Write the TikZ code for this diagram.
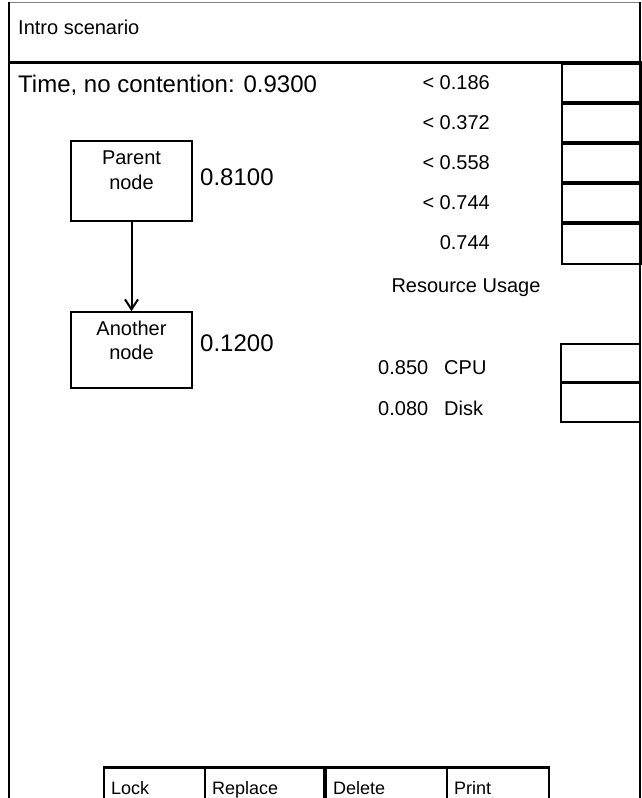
\documentclass[tikz,border=0pt]{standalone}
\usepackage{fontspec}
\setmainfont{Liberation Sans}
\usetikzlibrary{positioning, arrows.meta}

\begin{document}
\begin{tikzpicture}[x=1pt, y=-1pt]
\tikzstyle{txt}=[inner sep=0pt, font=\fontsize{20}{24}\selectfont]
\tikzstyle{big}=[inner sep=0pt, font=\fontsize{24}{28}\selectfont]
\tikzstyle{small}=[inner sep=0pt, font=\fontsize{18}{22}\selectfont]
\tikzstyle{task}=[rectangle, draw=black, line width=1.6pt, minimum width=121pt, minimum height=78pt, inner sep=0pt]
\tikzstyle{swatch}=[rectangle, draw=black, line width=1.6pt, minimum width=79pt, minimum height=40pt, inner sep=0pt, anchor=north west]
\tikzstyle{button}=[rectangle, draw=black, line width=1.6pt, minimum height=40pt, inner sep=0pt, anchor=north west]
\tikzset{link/.style={line width=2pt, -{Straight Barb[length=10pt, width=13pt, line width=2pt]}}}

\useasboundingbox[fill=white] (0,0) rectangle (642,798);
\clip (0,0) rectangle (642,798);

% window frame
\draw[gray, line width=1pt] (9,2) -- (640,2);
\draw[line width=1.6pt] (9,810) -- (9,2);
\draw[line width=1.6pt] (640,2) -- (640,810);
\draw[line width=3pt] (9,62) -- (640,62);

\node (title) [txt, anchor=west] at (18,27) {Intro scenario};
\node (time) [big, anchor=west] at (18,85) {Time, no contention: 0.9300};

% legend
\foreach \lab [count=\i] in {< 0.186, < 0.372, < 0.558, < 0.744, 0.744}{
    \node (swatch\i) [swatch] at (561,63+40*\i-40) {};
    \draw[line width=4pt] (swatch\i.north west) -- (swatch\i.north east);
    \node (range\i) [txt, anchor=east] at (490,83+40*\i-40) {\lab};
}

\node (usage) [txt] at (466,288) {Resource Usage};

\node (cpubox) [swatch, minimum height=39pt] at (560,343) {};
\node (diskbox) [swatch, minimum height=39pt] at (560,382) {};
\draw[line width=3pt] (diskbox.north west) -- (diskbox.north east);
\node (cpu) [txt, anchor=west] at (378,368) {0.850\hspace{16pt}CPU};
\node (disk) [txt, anchor=west] at (378,408) {0.080\hspace{16pt}Disk};

% tasks
\node (parent) [task, minimum height=80pt] at (131.5,181) {};
\node (parentname) [txt, align=center, below=10pt of parent.north] {Parent\\[1pt]node};
\node (parentval) [big, anchor=west] at (200,177) {0.8100};

\node (another) [task, minimum height=76pt] at (131.5,350) {};
\node (anothername) [txt, align=center, below=10pt of another.north] {Another\\node};
\node (anotherval) [big, anchor=west] at (200,343) {0.1200};

\draw[link] (parent) -- (another);

% buttons
\foreach \name/\bx/\bw in {Lock/103/101, Replace/204/121, Delete/325/121, Print/446/102}{
    \node (btn\name) [button, minimum width=\bw pt] at (\bx,767) {};
    \draw[line width=3pt] (btn\name.north west) -- (btn\name.north east);
    \node (lbl\name) [small, anchor=base west] at ([xshift=8pt]btn\name.north west |- 0,794) {\name};
}
\draw[line width=4pt] (btnDelete.north west) -- (btnDelete.south west);

\end{tikzpicture}
\end{document}
